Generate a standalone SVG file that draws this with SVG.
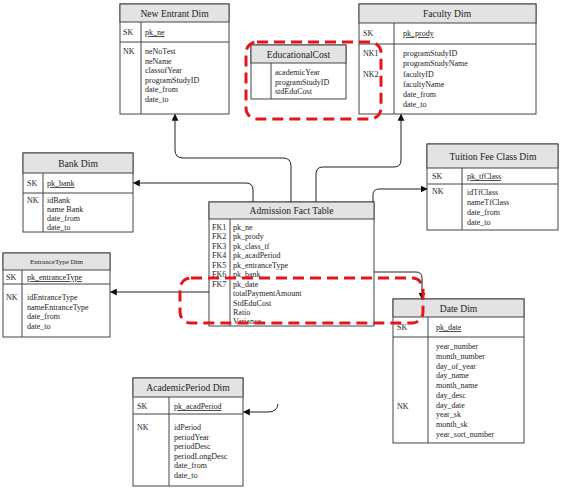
<svg xmlns="http://www.w3.org/2000/svg" width="562" height="490" viewBox="0 0 562 490" font-family="'Liberation Serif', 'Times New Roman', serif">
<defs>
<style>
.box{fill:#fff;stroke:#444;stroke-width:1}
.hdr{fill:#e3e3e3;stroke:#444;stroke-width:1}
.ln{stroke:#444;stroke-width:1;fill:none}
text{font-family:"Liberation Serif","Times New Roman",serif;font-size:8px;fill:#222}
.t{font-size:9.6px;text-anchor:middle}
.ts{font-size:7px;text-anchor:middle}
.pk{text-decoration:underline}
.conn{stroke:#222;stroke-width:1;fill:none;marker-end:url(#ah)}
.red{fill:none;stroke:#e4161b;stroke-width:3;stroke-dasharray:11 6}
</style>
<marker id="ah" viewBox="0 0 10 10" refX="9" refY="5" markerWidth="7" markerHeight="7" orient="auto" markerUnits="userSpaceOnUse">
<path d="M0,0 L10,5 L0,10 z" fill="#111"/>
</marker>
</defs>
<rect width="562" height="490" fill="#fff"/>

<g id="new-entrant-dim">
<rect class="box" x="120" y="4" width="109" height="110"/>
<rect class="hdr" x="120" y="4" width="109" height="18"/>
<line class="ln" x1="120" y1="42" x2="229" y2="42"/>
<line class="ln" x1="141" y1="22" x2="141" y2="114"/>
<text class="t" x="174.5" y="16.5">New Entrant Dim</text>
<text x="123" y="35">SK</text>
<text class="pk" x="145" y="35">pk_ne</text>
<text x="123" y="54">NK</text>
<text x="145" y="54">neNoTest</text>
<text x="145" y="63.5">neName</text>
<text x="145" y="73">classofYear</text>
<text x="145" y="82.5">programStudyID</text>
<text x="145" y="92">date_from</text>
<text x="145" y="101.5">date_to</text>
</g>

<g id="faculty-dim">
<rect class="box" x="359" y="4" width="177" height="110"/>
<rect class="hdr" x="359" y="4" width="177" height="19"/>
<line class="ln" x1="359" y1="44" x2="536" y2="44"/>
<line class="ln" x1="394" y1="23" x2="394" y2="114"/>
<text class="t" x="447" y="16.5">Faculty Dim</text>
<text x="363" y="36">SK</text>
<text class="pk" x="403" y="36">pk_prody</text>
<text x="363" y="56">NK1</text>
<text x="363" y="76.5">NK2</text>
<text x="403" y="56">programStudyID</text>
<text x="403" y="66">programStudyName</text>
<text x="403" y="76.5">facultyID</text>
<text x="403" y="86.5">facultyName</text>
<text x="403" y="96.5">date_from</text>
<text x="403" y="106.5">date_to</text>
</g>

<g id="educational-cost">
<rect class="box" x="251" y="45" width="95" height="54"/>
<rect class="hdr" x="251" y="45" width="95" height="18"/>
<line class="ln" x1="271" y1="63" x2="271" y2="99"/>
<text class="t" x="298.5" y="57.5">EducationalCost</text>
<text x="275" y="75">academicYear</text>
<text x="275" y="84.5">programStudyID</text>
<text x="275" y="94">stdEduCost</text>
</g>

<g id="bank-dim">
<rect class="box" x="23" y="153" width="110" height="79"/>
<rect class="hdr" x="23" y="153" width="110" height="20"/>
<line class="ln" x1="23" y1="193" x2="133" y2="193"/>
<line class="ln" x1="43" y1="173" x2="43" y2="232"/>
<text class="t" x="78" y="166.5">Bank Dim</text>
<text x="27" y="186">SK</text>
<text class="pk" x="47" y="186">pk_bank</text>
<text x="27" y="203">NK</text>
<text x="47" y="203">idBank</text>
<text x="47" y="212">name Bank</text>
<text x="47" y="221">date_from</text>
<text x="47" y="230">date_to</text>
</g>

<g id="tuition-fee-class-dim">
<rect class="box" x="427" y="144" width="131" height="86"/>
<rect class="hdr" x="427" y="144" width="131" height="24"/>
<line class="ln" x1="427" y1="184" x2="558" y2="184"/>
<line class="ln" x1="462" y1="168" x2="462" y2="230"/>
<text class="t" x="493" y="159.5">Tuition Fee Class Dim</text>
<text x="432" y="179">SK</text>
<text class="pk" x="467" y="179">pk_tfClass</text>
<text x="432" y="194">NK</text>
<text x="467" y="195">idTfClass</text>
<text x="467" y="205">nameTfClass</text>
<text x="467" y="215">date_from</text>
<text x="467" y="225">date_to</text>
</g>

<g id="admission-fact-table">
<rect class="box" x="209" y="202" width="165" height="124"/>
<rect class="hdr" x="209" y="202" width="165" height="17"/>
<line class="ln" x1="230" y1="219" x2="230" y2="326"/>
<text class="t" x="291.5" y="214">Admission Fact Table</text>
<text x="212" y="229.5">FK1</text>
<text x="212" y="239">FK2</text>
<text x="212" y="248.5">FK3</text>
<text x="212" y="258">FK4</text>
<text x="212" y="267.5">FK5</text>
<text x="212" y="277">FK6</text>
<text x="212" y="286.5">FK7</text>
<text x="233" y="229.5">pk_ne</text>
<text x="233" y="239">pk_prody</text>
<text x="233" y="248.5">pk_class_tf</text>
<text x="233" y="258">pk_acadPeriod</text>
<text x="233" y="267.5">pk_entranceType</text>
<text x="233" y="277">pk_bank</text>
<text x="233" y="286.5">pk_date</text>
<text x="233" y="296">totalPaymentAmount</text>
<text x="233" y="305.5">StdEduCost</text>
<text x="233" y="315">Ratio</text>
<text x="233" y="324">Variance</text>
</g>

<g id="entrance-type-dim">
<rect class="box" x="3" y="253" width="107" height="84"/>
<rect class="hdr" x="3" y="253" width="107" height="17"/>
<line class="ln" x1="3" y1="284" x2="110" y2="284"/>
<line class="ln" x1="22" y1="270" x2="22" y2="337"/>
<text class="ts" x="56.5" y="264">EntranceType Dim</text>
<text x="6" y="280">SK</text>
<text class="pk" x="27" y="280">pk_entranceType</text>
<text x="6" y="300">NK</text>
<text x="27" y="300">idEntranceType</text>
<text x="27" y="309.5">nameEntranceType</text>
<text x="27" y="319">date_from</text>
<text x="27" y="328.5">date_to</text>
</g>

<g id="date-dim">
<rect class="box" x="393" y="299" width="131" height="144"/>
<rect class="hdr" x="393" y="299" width="131" height="18"/>
<line class="ln" x1="393" y1="337" x2="524" y2="337"/>
<line class="ln" x1="428" y1="317" x2="428" y2="443"/>
<text class="t" x="458.5" y="311.5">Date Dim</text>
<text x="397" y="330">SK</text>
<text class="pk" x="436" y="330">pk_date</text>
<text x="397" y="409">NK</text>
<text x="436" y="349">year_number</text>
<text x="436" y="359">month_number</text>
<text x="436" y="368.5">day_of_year</text>
<text x="436" y="378">day_name</text>
<text x="436" y="388">month_name</text>
<text x="436" y="397.5">day_desc</text>
<text x="436" y="407.5">day_date</text>
<text x="436" y="417">year_sk</text>
<text x="436" y="427">month_sk</text>
<text x="436" y="437">year_sort_number</text>
</g>

<g id="academic-period-dim">
<rect class="box" x="133" y="378" width="110" height="108"/>
<rect class="hdr" x="133" y="378" width="110" height="19"/>
<line class="ln" x1="133" y1="414" x2="243" y2="414"/>
<line class="ln" x1="169" y1="397" x2="169" y2="486"/>
<text class="t" x="188" y="391">AcademicPeriod Dim</text>
<text x="137" y="409">SK</text>
<text class="pk" x="174" y="409">pk_acadPeriod</text>
<text x="137" y="430">NK</text>
<text x="174" y="430">idPeriod</text>
<text x="174" y="439.5">periodYear</text>
<text x="174" y="449">periodDesc</text>
<text x="174" y="458.5">periodLongDesc</text>
<text x="174" y="468">date_from</text>
<text x="174" y="477.5">date_to</text>
</g>

<g id="connectors">
<path class="conn" d="M291 202 V166 Q291 158 283 158 H183 Q175 158 175 150 V114.5"/>
<path class="conn" d="M316 202 V174 Q316 167 323 167 H394 Q401 167 401 160 V114.5"/>
<path class="conn" d="M253 202 V190 Q253 183 246 183 H133.5"/>
<path class="conn" d="M373 202 V195 Q373 189 379 189 H427"/>
<path class="conn" d="M209 292 H110.5"/>
<path class="conn" d="M374 272 H416 Q422 272 422 278 V299"/>
<path class="conn" d="M278 404 Q277 412 268 412 H243.5"/>
</g>

<g id="highlights">
<rect class="red" x="246" y="42" width="135" height="77" rx="11"/>
<rect class="red" x="180" y="278" width="243" height="45" rx="11"/>
</g>
</svg>
